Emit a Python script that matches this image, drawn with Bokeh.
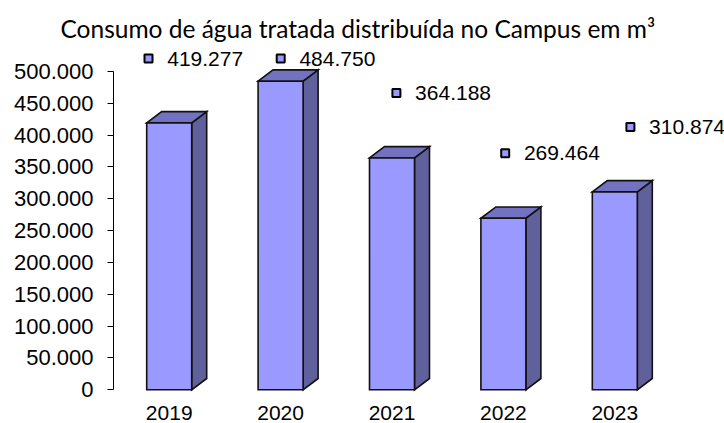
from bokeh.plotting import figure
from bokeh.models import Range1d, FixedTicker
from bokeh.core.properties import value
from bokeh.embed import file_html
from bokeh.resources import INLINE

# ---- data ----
years = ["2019", "2020", "2021", "2022", "2023"]
consumo = [419277, 484750, 364188, 269464, 310874]
y_ticks = [0, 50000, 100000, 150000, 200000, 250000, 300000, 350000, 400000, 450000, 500000]
title_text = "Consumo de água tratada distribuída no Campus em m³"

def fmt(v):
    return f"{v:,}".replace(",", ".")

# ---- layout constants (pixels) ----
W, H = 724, 423
FRAME_L, FRAME_T = 113, 45
CAT_PX = 111.4
ZERO_Y, TOP_Y = 389.3, 71.0
PX_PER_Y = (ZERO_Y - TOP_Y) / 500000
BAR_W = 45 / CAT_PX
DEPTH_DX_PX, DEPTH_DY_PX = 15, 11.3
LABEL_DY_PX = 65
LABEL_MIN_ROW = 58
label_nudge_px = [-20.7, 0.1, 4.4, 1.8, 15.6]

x_end = (W - FRAME_L) / CAT_PX
y_start = -(H - ZERO_Y) / PX_PER_Y
y_end = (ZERO_Y - FRAME_T) / PX_PER_Y

p = figure(width=W, height=H, output_backend="svg", toolbar_location=None,
           x_range=Range1d(0, x_end), y_range=Range1d(y_start, y_end),
           min_border_left=FRAME_L, min_border_right=0, min_border_top=FRAME_T,
           min_border_bottom=0, x_axis_location=None)
p.outline_line_color = None
p.grid.visible = False
p.background_fill_color = "white"
p.border_fill_color = "white"

# title
p.title.text = title_text
p.title.text_font = "Lato"
p.title.text_font_size = "24.5px"
p.title.text_font_style = "normal"
p.title.text_color = "black"
p.title.align = "left"
p.title.offset = 60 - FRAME_L
p.title.standoff = 6

# y axis
ax = p.yaxis[0]
ax.bounds = (0, 500000)
ax.ticker = FixedTicker(ticks=y_ticks)
ax.major_label_overrides = {t: fmt(t) for t in y_ticks}
ax.major_label_text_font = "Liberation Sans"
ax.major_label_text_font_size = "22px"
ax.major_label_text_color = "black"
ax.major_label_standoff = 14
ax.major_tick_out = 6
ax.major_tick_in = 0
ax.minor_tick_line_color = None
ax.axis_line_color = "black"
ax.major_tick_line_color = "black"

# bars
dx = DEPTH_DX_PX / CAT_PX
dy = DEPTH_DY_PX / PX_PER_Y
xc = [i + 0.5 for i in range(len(years))]
lefts = [c - BAR_W / 2 for c in xc]
rights = [c + BAR_W / 2 for c in xc]

side_xs = [[r, r + dx, r + dx, r] for r in rights]
side_ys = [[0, dy, v + dy, v] for v in consumo]
top_xs = [[l, l + dx, r + dx, r] for l, r in zip(lefts, rights)]
top_ys = [[v, v + dy, v + dy, v] for v in consumo]

edge = dict(line_color="#111111", line_width=1.6, line_join="miter")
p.patches(side_xs, side_ys, fill_color="#60609C", **edge)
p.patches(top_xs, top_ys, fill_color="#7272C0", **edge)
p.quad(left=lefts, right=rights, bottom=0, top=consumo, fill_color="#9999FF", **edge)

# year labels
p.text(x=xc, y=[0] * len(years), text=years, text_align="center", text_baseline="middle",
       y_offset=23.5, text_font=value("Liberation Sans"), text_font_size="21px", text_color="black")

# data labels
lab_x = [c + n / CAT_PX for c, n in zip(xc, label_nudge_px)]
lab_y = [min(v + LABEL_DY_PX / PX_PER_Y, (ZERO_Y - LABEL_MIN_ROW) / PX_PER_Y) for v in consumo]
p.rect(x=lab_x, y=lab_y, width=8, height=8, width_units="screen", height_units="screen",
       fill_color="#9999FF", line_color="black", line_width=2)
p.text(x=lab_x, y=lab_y, text=[fmt(v) for v in consumo], x_offset=18.7, text_align="left",
       text_baseline="middle", text_font=value("Liberation Sans"), text_font_size="21px",
       text_color="black")

open("out.html", "w").write(file_html(p, INLINE))
